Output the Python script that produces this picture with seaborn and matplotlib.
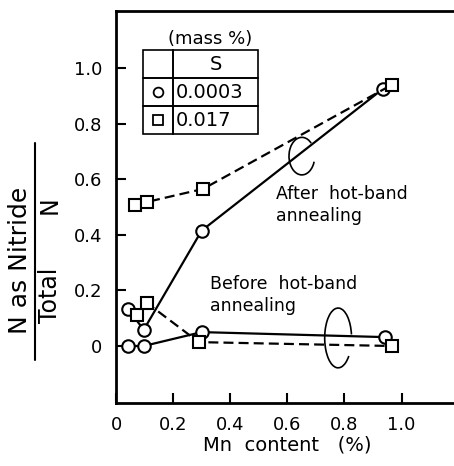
import matplotlib
matplotlib.use("Agg")
import matplotlib.pyplot as plt
from matplotlib.patches import Arc
from matplotlib.lines import Line2D
import seaborn as sns
import pandas as pd

# Mn content (%) and fraction of N present as nitride
after_circle_mn = [0.043, 0.097, 0.30, 0.935]
after_circle_n = [0.133, 0.058, 0.415, 0.925]
after_square_mn = [0.068, 0.108, 0.305, 0.967]
after_square_n = [0.507, 0.518, 0.565, 0.940]
before_circle_mn = [0.043, 0.097, 0.30, 0.942]
before_circle_n = [0.0, 0.0, 0.050, 0.032]
before_square_mn = [0.073, 0.108, 0.29, 0.967]
before_square_n = [0.110, 0.155, 0.014, 0.0]

x_ticks = [0, 0.2, 0.4, 0.6, 0.8, 1.0]
x_tick_labels = ["0", "0.2", "0.4", "0.6", "0.8", "1.0"]
y_ticks = [0, 0.2, 0.4, 0.6, 0.8, 1.0]
y_tick_labels = ["0", "0.2", "0.4", "0.6", "0.8", "1.0"]

table_rows = [["", "S"], ["", "0.0003"], ["", "0.017"]]

sns.set_style("ticks")
plt.rcParams["font.family"] = ["DejaVu Sans"]
plt.rcParams.update({
    "text.color": "black",
    "axes.labelcolor": "black",
    "axes.edgecolor": "black",
    "xtick.color": "black",
    "ytick.color": "black",
})

W, H = 454, 466
fig = plt.figure(figsize=(W / 100, H / 100), dpi=100)


def fx(px):
    return px / W


def fy(py):
    return 1 - py / H


ax = fig.add_axes([fx(116), fy(403), fx(454) - fx(116), fy(11) - fy(403)])

series = [
    (after_circle_mn, after_circle_n, "o", "-"),
    (after_square_mn, after_square_n, "s", (0, (4.5, 2.3))),
    (before_circle_mn, before_circle_n, "o", "-"),
    (before_square_mn, before_square_n, "s", (0, (4.5, 2.3))),
]
for xs, ys, mk, ls in series:
    df = pd.DataFrame({"mn": xs, "ratio": ys})
    sns.lineplot(
        data=df, x="mn", y="ratio", ax=ax, estimator=None, sort=False,
        color="black", linewidth=1.6, linestyle=ls,
        marker=mk, markersize=9 if mk == "o" else 8.5,
        markerfacecolor="white", markeredgecolor="black", markeredgewidth=1.5,
        clip_on=False, zorder=3,
    )

ax.set_xlim(0, 338 / 285.5)
ax.set_ylim(-0.205, 1.205)
ax.set_xticks(x_ticks)
ax.set_xticklabels(x_tick_labels)
ax.set_yticks(y_ticks)
ax.set_yticklabels(y_tick_labels)
ax.tick_params(direction="in", length=7, width=1.5, labelsize=13, pad=9,
               colors="black")
ax.tick_params(axis="y", pad=10)
for side in ["left", "bottom", "top"]:
    ax.spines[side].set_linewidth(2)
    ax.spines[side].set_color("black")
ax.spines["right"].set_visible(False)
ax.set_xlabel("")
ax.set_ylabel("")

# axis titles
fig.text(fx(287), fy(445), "Mn  content   (%)", ha="center", va="center", fontsize=14)
fig.text(fx(20), fy(260), "N as Nitride", rotation=90, ha="center", va="center", fontsize=18)
fig.text(fx(50), fy(295), "Total", rotation=90, ha="center", va="center", fontsize=17)
fig.text(fx(50), fy(205), "N", rotation=90, ha="center", va="center", fontsize=17)
fig.add_artist(Line2D([fx(35), fx(35)], [fy(143), fy(360)], color="black", lw=1.5))

# curve labels
ax.text(0.562, 0.507, "After  hot-band\nannealing", fontsize=12.5, ha="left",
        va="center", linespacing=1.25)
ax.text(0.33, 0.183, "Before  hot-band\nannealing", fontsize=12.5, ha="left",
        va="center", linespacing=1.25)

# open loops grouping each pair of curves
ax.add_patch(Arc((0.651, 0.683), 0.09, 0.135, theta1=55, theta2=335,
                 color="black", lw=1.2))
ax.add_patch(Arc((0.778, 0.029), 0.094, 0.215, theta1=15, theta2=300,
                 color="black", lw=1.2))

# sulfur content key
tbl = ax.table(cellText=table_rows, colWidths=[30, 85],
               bbox=[27 / 338, (403 - 134) / 392, 115 / 338, 84 / 392],
               cellLoc="center")
tbl.auto_set_font_size(False)
tbl.set_fontsize(14)
for (r, c), cell in tbl.get_celld().items():
    cell.set_linewidth(1.2)
    cell.set_facecolor("none")
    cell.set_edgecolor("black")
    cell.get_text().set_color("black")
    if c == 1 and r > 0:
        cell.set_text_props(ha="left")
        cell.PAD = 0.03
ax.plot([(158 - 116) / 338], [(403 - 92) / 392], marker="o", ms=7, mfc="white",
        mec="black", mew=1.3, transform=ax.transAxes, clip_on=False)
ax.plot([(158 - 116) / 338], [(403 - 120) / 392], marker="s", ms=6.5, mfc="white",
        mec="black", mew=1.3, transform=ax.transAxes, clip_on=False)
fig.text(fx(210), fy(39), "(mass %)", ha="center", va="center", fontsize=13)

fig.savefig("out.png", dpi=100)
